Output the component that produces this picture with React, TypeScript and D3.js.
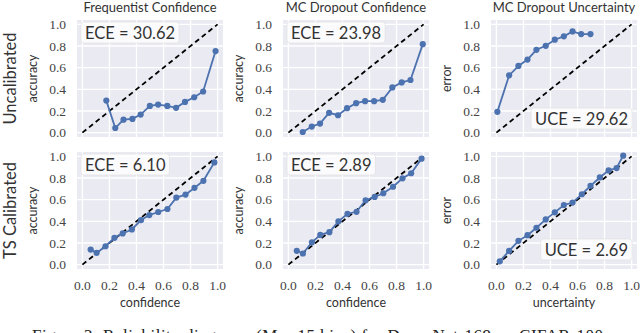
import React, { useEffect, useRef } from 'react'
import * as d3 from 'd3'

// tick values shared by every panel
const ticks = [0, 0.2, 0.4, 0.6, 0.8, 1.0]
const colTitles = ['Frequentist Confidence', 'MC Dropout Confidence', 'MC Dropout Uncertainty']
const rowLabels = ['Uncalibrated', 'TS Calibrated']
const yLabels = ['accuracy', 'accuracy', 'error']
const xLabels = ['confidence', 'confidence', 'uncertainty']
const scoreTexts = [
  ['ECE = 30.62', 'ECE = 23.98', 'UCE = 29.62'],
  ['ECE = 6.10', 'ECE = 2.89', 'UCE = 2.69'],
]

// uncalibrated row
const freqUncalX = [0.177, 0.243, 0.304, 0.37, 0.431, 0.499, 0.56, 0.628, 0.693, 0.759, 0.827, 0.893, 0.985]
const freqUncalY = [0.296, 0.043, 0.12, 0.127, 0.167, 0.247, 0.259, 0.247, 0.229, 0.284, 0.327, 0.38, 0.753]
const mcConfUncalX = [0.106, 0.173, 0.234, 0.301, 0.367, 0.434, 0.501, 0.567, 0.634, 0.698, 0.769, 0.838, 0.903, 0.994]
const mcConfUncalY = [0.006, 0.056, 0.084, 0.183, 0.161, 0.226, 0.272, 0.291, 0.291, 0.303, 0.418, 0.464, 0.486, 0.817]
const mcUncUncalX = [0.007, 0.094, 0.163, 0.23, 0.296, 0.365, 0.432, 0.499, 0.563, 0.627, 0.696]
const mcUncUncalY = [0.192, 0.529, 0.616, 0.675, 0.765, 0.802, 0.858, 0.889, 0.935, 0.91, 0.91]

// temperature scaled row
const freqTsX = [0.061, 0.105, 0.171, 0.237, 0.298, 0.366, 0.434, 0.495, 0.561, 0.629, 0.695, 0.763, 0.829, 0.895, 0.976]
const freqTsY = [0.139, 0.108, 0.17, 0.248, 0.288, 0.325, 0.412, 0.458, 0.486, 0.514, 0.619, 0.647, 0.709, 0.774, 0.944]
const mcConfTsX = [0.062, 0.107, 0.174, 0.236, 0.303, 0.37, 0.437, 0.504, 0.571, 0.638, 0.702, 0.774, 0.844, 0.908, 0.985]
const mcConfTsY = [0.128, 0.103, 0.206, 0.275, 0.3, 0.4, 0.469, 0.488, 0.594, 0.625, 0.659, 0.719, 0.797, 0.844, 0.978]
const mcUncTsX = [0.025, 0.094, 0.163, 0.23, 0.296, 0.365, 0.432, 0.499, 0.563, 0.632, 0.696, 0.765, 0.83, 0.889, 0.938]
const mcUncTsY = [0.031, 0.127, 0.22, 0.272, 0.341, 0.418, 0.483, 0.551, 0.573, 0.65, 0.728, 0.805, 0.87, 0.892, 1.006]

const caption = 'Figure 3: Reliability diagrams (M = 15 bins) for DenseNet-169 on CIFAR-100'

const series = [
  [[freqUncalX, freqUncalY], [mcConfUncalX, mcConfUncalY], [mcUncUncalX, mcUncUncalY]],
  [[freqTsX, freqTsY], [mcConfTsX, mcConfTsY], [mcUncTsX, mcUncTsY]],
]

const App = () => {
  const ref = useRef<SVGSVGElement>(null)

  useEffect(() => {
    const svg = d3.select(ref.current)
    svg.selectAll('*').remove()

    const sans = 'Lato, "Open Sans", sans-serif'
    const serif = '"Liberation Serif", serif'
    const lefts = [77, 283, 491]
    const tops = [20, 152]
    const w = 146
    const h = 117
    const blue = '#4c72b0'

    // column titles
    colTitles.forEach((t, c) => {
      svg.append('text').attr('x', lefts[c] + w / 2).attr('y', 12)
        .attr('text-anchor', 'middle').attr('font-family', sans).attr('font-size', 13)
        .attr('fill', '#333').text(t)
    })

    // row labels
    rowLabels.forEach((t, r) => {
      svg.append('text')
        .attr('transform', `translate(16,${tops[r] + h / 2}) rotate(-90)`)
        .attr('text-anchor', 'middle').attr('font-family', sans).attr('font-size', 16.5)
        .attr('fill', '#333').text(t)
    })

    series.forEach((row, r) => {
      row.forEach(([xs, ys], c) => {
        const x = d3.scaleLinear().domain([-0.04, 1.04]).range([lefts[c], lefts[c] + w])
        const y = d3.scaleLinear().domain([-0.04, 1.04]).range([tops[r] + h, tops[r]])
        const g = svg.append('g')

        g.append('rect').attr('x', lefts[c]).attr('y', tops[r]).attr('width', w).attr('height', h)
          .attr('fill', '#eaeaf2')

        g.selectAll('.vg').data(ticks).enter().append('line')
          .attr('x1', (d) => x(d)).attr('x2', (d) => x(d))
          .attr('y1', tops[r]).attr('y2', tops[r] + h)
          .attr('stroke', '#fff').attr('stroke-width', 1.3)
        g.selectAll('.hg').data(ticks).enter().append('line')
          .attr('y1', (d) => y(d)).attr('y2', (d) => y(d))
          .attr('x1', lefts[c]).attr('x2', lefts[c] + w)
          .attr('stroke', '#fff').attr('stroke-width', 1.3)

        // y tick labels
        g.selectAll('.yt').data(ticks).enter().append('text')
          .attr('x', lefts[c] - 11).attr('y', (d) => y(d)).attr('dy', '0.35em')
          .attr('text-anchor', 'end').attr('font-family', serif).attr('font-size', 13.5)
          .attr('fill', '#444').text((d) => d3.format('.1f')(d))

        g.append('text')
          .attr('transform', `translate(${lefts[c] - 40},${tops[r] + h / 2}) rotate(-90)`)
          .attr('text-anchor', 'middle').attr('font-family', sans).attr('font-size', 12.5)
          .attr('fill', '#333').text(yLabels[c])

        if (r === 1) {
          g.selectAll('.xt').data(ticks).enter().append('text')
            .attr('x', (d) => x(d)).attr('y', tops[r] + h + 21)
            .attr('text-anchor', 'middle').attr('font-family', serif).attr('font-size', 13.5)
            .attr('fill', '#444').text((d) => d3.format('.1f')(d))
          g.append('text').attr('x', x(0.5)).attr('y', tops[r] + h + 38)
            .attr('text-anchor', 'middle').attr('font-family', sans).attr('font-size', 12.5)
            .attr('fill', '#333').text(xLabels[c])
        }

        // identity line
        g.append('line').attr('x1', x(0)).attr('y1', y(0)).attr('x2', x(1)).attr('y2', y(1))
          .attr('stroke', '#000').attr('stroke-width', 1.8).attr('stroke-dasharray', '5,3.5')

        const pts = xs.map((v, i) => [v, ys[i]] as [number, number])
        g.append('path').datum(pts)
          .attr('d', d3.line<[number, number]>().x((d) => x(d[0])).y((d) => y(d[1])))
          .attr('fill', 'none').attr('stroke', blue).attr('stroke-width', 1.8)
        g.selectAll('.pt').data(pts).enter().append('circle')
          .attr('cx', (d) => x(d[0])).attr('cy', (d) => y(d[1])).attr('r', 3.1)
          .attr('fill', blue)

        // score box
        const upper = c < 2
        const label = g.append('text').attr('font-family', sans).attr('font-size', 16.5)
          .attr('fill', '#333').attr('dy', '0.35em').text(scoreTexts[r][c])
        const tw = (label.node() as SVGTextElement).getComputedTextLength()
        const bw = tw + 8
        const bh = 21
        const bx = upper ? lefts[c] + 4 : lefts[c] + w - 5 - bw
        const by = upper ? tops[r] + 2 : (r === 0 ? tops[r] + 88 : tops[r] + 87)
        label.attr('x', bx + 4).attr('y', by + bh / 2 + 1)
        g.insert('rect', () => label.node() as Element)
          .attr('x', bx).attr('y', by).attr('width', bw).attr('height', bh).attr('rx', 3)
          .attr('fill', '#fff').attr('fill-opacity', 0.8)
          .attr('stroke', '#ddd').attr('stroke-opacity', 0.6)
      })
    })

    // caption, cut by the bottom edge as in the source image
    svg.append('text').attr('x', 32).attr('y', 341).attr('font-family', serif)
      .attr('font-size', 17).attr('fill', '#222')
      .attr('textLength', 571).attr('lengthAdjust', 'spacing').text(caption)
  }, [])

  return (
    <svg ref={ref} width={640} height={333}
      style={{ position: 'absolute', left: 0, top: 0, background: '#fff' }} />
  )
}

export default App
